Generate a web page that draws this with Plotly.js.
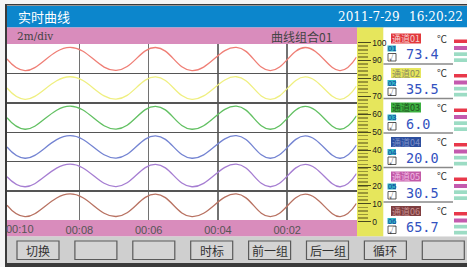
<!DOCTYPE html>
<html><head><meta charset="utf-8">
<script src="https://cdn.plot.ly/plotly-3.0.1.min.js"></script>
<style>html,body{margin:0;padding:0;background:#f4f4f4;overflow:hidden}#chart{width:467px;height:267px}</style>
</head><body><div id="chart"></div>
<script>
// ---------- data ----------
const titleText = "实时曲线";
const dateText = "2011-7-29";
const timeText = "16:20:22";
const divText = "2m/div";
const groupText = "曲线组合01";

const times = [10.09, 9.57, 8.27, 6.94, 5.8, 4.75, 3.47, 2.49, 1.48, 0.47, 0];
const ch1 = [90.8, 84.3, 97.3, 84.4, 97.2, 84.3, 97.3, 84.3, 97.2, 84.3, 91.9];
const ch2 = [74.6, 68.3, 80.9, 68.4, 80.8, 68.3, 80.9, 68.3, 80.8, 68.3, 75.7];
const ch3 = [58.0, 51.6, 64.5, 51.7, 64.4, 51.6, 64.5, 51.6, 64.4, 51.6, 59.1];
const ch4 = [41.7, 35.4, 48.0, 35.5, 47.9, 35.4, 48.0, 35.4, 47.9, 35.4, 42.8];
const ch5 = [25.1, 19.5, 32.1, 19.6, 32.0, 19.5, 32.1, 19.5, 32.0, 19.5, 26.9];
const ch6 = [9.2, 2.8, 15.5, 2.9, 15.4, 2.8, 15.5, 2.8, 15.4, 2.8, 10.2];

const timeTicks = [8, 6, 4, 2];
const timeTickText = ["00:08", "00:06", "00:04", "00:02"];
const firstTime = 10.09;
const firstTimeLabel = "00:10";
const scaleTicks = [0, 10, 20, 30, 40, 50, 60, 70, 80, 90, 100];
const bandEdges = [17.1, 33.5, 49.9, 66.2, 82.8];

const channelNames = ["通道01", "通道02", "通道03", "通道04", "通道05", "通道06"];
const channelNums = ["01", "02", "03", "04", "05", "06"];
const channelValues = [73.4, 35.5, 6.0, 20.0, 30.5, 65.7];
const channelUnit = "℃";
const buttonLabels = ["切换", "", "", "时标", "前一组", "后一组", "循环", ""];

// ---------- styles ----------
const curveColors = ["#ef7f76", "#efef80", "#62c062", "#7484d2", "#a67ed2", "#b87262"];
const labelColors = ["#e2383c", "#e6e65e", "#3cb040", "#2c4e9e", "#c25aa8", "#7e3e40"];
const labelTextColors = ["#f4d0d0", "#8a8a60", "#205020", "#7e90c8", "#f0b8e0", "#c89090"];
const W = 467, H = 267;
const X = px => px / W;
const Y = py => 1 - py / H;
const pxPerUnit = (221.7 - 42.5) / 100;
const yLo = (221.7 - 220) / pxPerUnit, yHi = (221.7 - 44) / pxPerUnit;

const shapes = [];
const ann = [];
function rect(x0, y0, x1, y1, fill, lc, lw, layer) {
  shapes.push({type: 'rect', xref: 'paper', yref: 'paper', x0: X(x0), x1: X(x1), y0: Y(y1), y1: Y(y0),
    fillcolor: fill, line: {color: lc || fill, width: lw || 0}, layer: layer || 'below'});
}
function hline(x0, x1, y, c, w) {
  shapes.push({type: 'line', xref: 'paper', yref: 'paper', x0: X(x0), x1: X(x1), y0: Y(y), y1: Y(y),
    line: {color: c, width: w}, layer: 'above'});
}
function text(t, x, y, size, color, family, anchor) {
  ann.push({text: t, x: X(x), y: Y(y), xref: 'paper', yref: 'paper', showarrow: false,
    xanchor: anchor || 'center', yanchor: 'middle', font: {size: size, color: color, family: family}, borderpad: 0});
}

// backgrounds
rect(7, 6, 467, 27.5, '#0c86cc');
rect(7, 27.5, 357, 44, '#d98cbc');
rect(7, 44, 357, 220, '#ffffff');
rect(7, 220, 357, 236.5, '#d98cbc');
rect(357, 27.5, 383.5, 236.5, '#e6e65c');
rect(383.5, 27.5, 467, 236.5, '#ffffff');
rect(7, 236.5, 467, 263, '#cfcfcf');
// frame
rect(5, 4, 467, 5.5, '#3a3a3a');
rect(5, 4, 7, 267, '#3a3a3a');
rect(5, 263, 467, 267, '#3a3a3a');

// title bar
text(titleText, 17, 16.5, 13, '#ffffff', 'Noto Sans CJK SC', 'left');
text(dateText, 337, 16.8, 12, '#ffffff', 'DejaVu Serif', 'left');
text(timeText, 408, 16.8, 12, '#ffffff', 'DejaVu Serif', 'left');
text(divText, 16, 35.5, 10.5, '#444444', 'DejaVu Serif', 'left');
text(groupText, 270, 36, 12, '#444444', 'Noto Sans CJK SC', 'left');

// right panel
const step = 34.5;
channelNames.forEach((name, k) => {
  const d = step * k;
  rect(391, 33.5 + d, 421, 43.5 + d, labelColors[k], null, 0, 'above');
  text(name, 406, 38.7 + d, 9, labelTextColors[k], 'Noto Sans CJK SC');
  text(channelUnit, 442, 38 + d, 10, '#333333', 'Noto Sans CJK SC');
  rect(387.5, 45.5 + d, 396, 51.5 + d, '#2fb5c5', null, 0, 'above');
  text(channelNums[k], 391.8, 48.5 + d, 7.5, '#1a3a9a', 'Liberation Sans');
  rect(388, 53.5 + d, 396, 61 + d, '#ffffff', '#333333', 0.8, 'above');
  text('√', 392, 57.4 + d, 7, '#222222', 'Noto Sans CJK SC');
  text(channelValues[k].toFixed(1), 405, 54.5 + d, 13.5, '#3352c0', 'DejaVu Sans Mono', 'left');
  rect(454, 39.5 + d, 467, 43 + d, '#e8384a', null, 0, 'above');
  rect(454, 46 + d, 467, 50 + d, '#c45aae', null, 0, 'above');
  rect(454, 52.3 + d, 467, 56 + d, '#9cdcc4', null, 0, 'above');
  rect(454, 58.3 + d, 467, 62 + d, '#9cdcc4', null, 0, 'above');
  if (k < channelNames.length - 1) hline(383.5, 453, 64 + d, '#8a8a8a', 1.5);
});

// buttons
buttonLabels.forEach((b, i) => {
  const x0 = 17 + 57.9 * i;
  rect(x0, 241, x0 + 42, 259.5, '#d4d4d4', '#5a5a5a', 1.2, 'above');
  if (b) text(b, x0 + 21, 250.5, 12, '#333333', 'Noto Sans CJK SC');
});

// first time label
ann.push({text: firstTimeLabel, x: firstTime, xref: 'x', y: Y(228.5), yref: 'paper', showarrow: false,
  xanchor: 'left', yanchor: 'middle', xshift: -3, font: {size: 11, color: '#555555', family: 'Liberation Sans'}});

const series = [ch1, ch2, ch3, ch4, ch5, ch6];
const traces = series.map((s, i) => ({
  x: times, y: s, type: 'scatter', mode: 'lines', xaxis: 'x', yaxis: 'y',
  line: {color: curveColors[i], width: 1.3, shape: 'spline', smoothing: 1.2},
  hoverinfo: 'skip', showlegend: false
}));
traces.push({x: [0.5], y: [50], xaxis: 'x2', yaxis: 'y2', mode: 'markers', marker: {opacity: 0},
  hoverinfo: 'skip', showlegend: false, type: 'scatter'});

const layout = {
  width: W, height: H, margin: {l: 0, r: 0, t: 0, b: 0},
  paper_bgcolor: '#f4f4f4', plot_bgcolor: 'rgba(0,0,0,0)', showlegend: false,
  xaxis: {domain: [X(7), X(356.5)], range: [firstTime, 0], anchor: 'y', tickvals: timeTicks, ticktext: timeTickText,
    ticks: '', showline: false, zeroline: false, showgrid: true, gridcolor: '#727272', gridwidth: 1.6,
    ticklabelstandoff: 2,
    tickfont: {size: 11, color: '#555555', family: 'Liberation Sans'}, fixedrange: true},
  yaxis: {domain: [Y(220), Y(44)], range: [yLo, yHi], anchor: 'x', tickvals: bandEdges, showticklabels: false,
    ticks: '', showline: false, zeroline: false, showgrid: true, gridcolor: '#555555', gridwidth: 1.3, fixedrange: true},
  xaxis2: {domain: [X(357), X(383)], range: [0, 1], anchor: 'y2', visible: false, fixedrange: true},
  yaxis2: {domain: [Y(221.7), Y(42.5)], range: [-0.05, 100.05], anchor: 'free', position: X(357), side: 'right',
    tickvals: scaleTicks, ticks: 'outside', ticklen: 12.5, tickwidth: 1, tickcolor: '#4a4a20',
    minor: {dtick: 2, ticks: 'outside', ticklen: 10, tickwidth: 1.5, tickcolor: '#9a9638', showgrid: false},
    showline: false, zeroline: false, showgrid: false,
    tickfont: {size: 8.5, color: '#222222', family: 'Liberation Sans'}, fixedrange: true},
  shapes: shapes, annotations: ann
};
Plotly.newPlot('chart', traces, layout, {staticPlot: true, displayModeBar: false});
</script></body></html>
